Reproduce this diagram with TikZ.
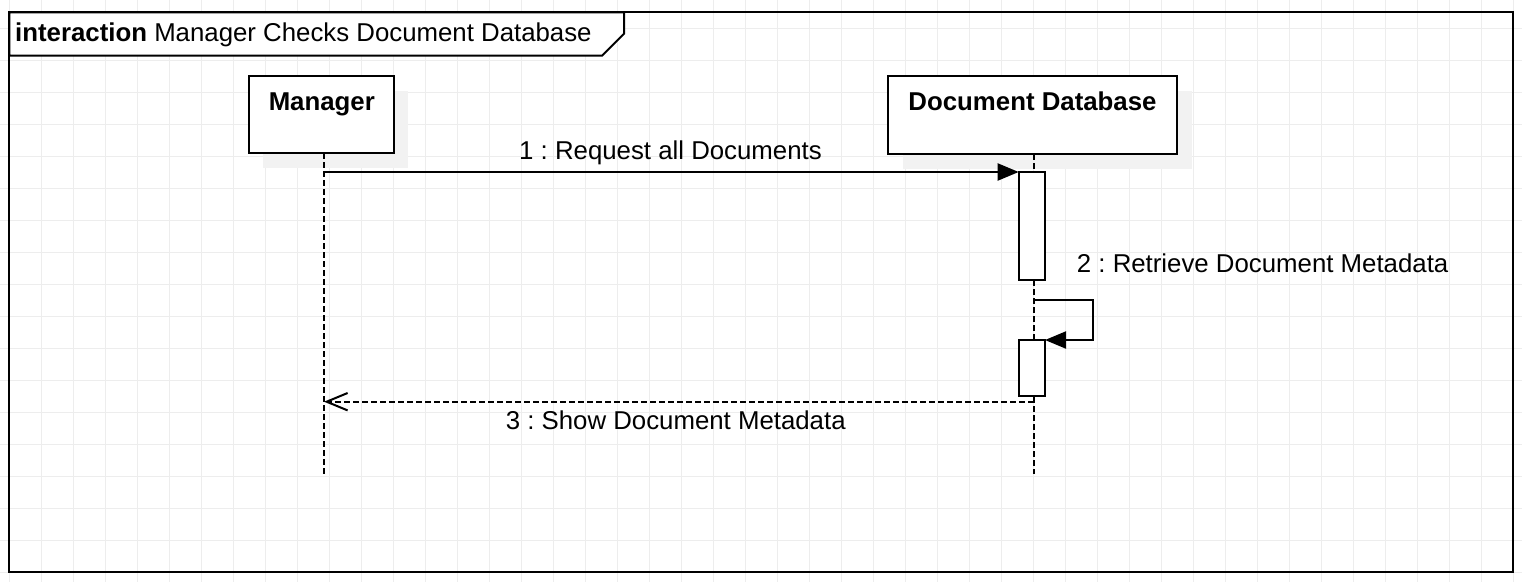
\documentclass[tikz,border=0pt]{standalone}
\usepackage{fontspec}
\setmainfont{Liberation Sans}
\usetikzlibrary{arrows.meta,calc,shadows}
\definecolor{gridc}{HTML}{EDEDED}
\definecolor{shadowc}{HTML}{F2F2F2}
\frenchspacing
\begin{document}
\begin{tikzpicture}[x=1pt,y=-1pt,
  every node/.style={font=\fontsize{25.8}{30}\selectfont},
  thickline/.style={line width=2pt},
  boxst/.style={draw, line width=2pt, fill=white, anchor=north west, inner sep=0pt, outer sep=0pt},
  headbox/.style={boxst, drop shadow={shadow xshift=14.5pt, shadow yshift=-14.5pt, fill=shadowc, opacity=1}},
  txt/.style={anchor=base, inner sep=0pt, text=black},
  headtxt/.style={txt, font=\fontsize{25.8}{30}\selectfont\bfseries},
  lifeline/.style={line width=2pt, dash pattern=on 6pt off 3pt},
  msg/.style={line width=2pt, -{Triangle[length=21pt,width=17pt]}},
  ret/.style={line width=2pt, dash pattern=on 6pt off 3pt, -{Straight Barb[length=21pt,width=17.4pt]}}
]
\useasboundingbox (0,0) rectangle (1522,582);
\fill[white] (0,0) rectangle (1522,582);
% grid
\foreach \i in {0,...,47} \draw[gridc, line width=1pt] ({9.3+32*\i},0) -- ({9.3+32*\i},582);
\foreach \j in {1,...,18} \draw[gridc, line width=1pt] (0,{-4+32*\j}) -- (1522,{-4+32*\j});
% frame
\draw[thickline] (9.3,12.3) rectangle (1513,572);
\filldraw[fill=white, thickline] (9.3,12.3) -- (624,12.3) -- (624,33.7) -- (602,55.7) -- (9.3,55.7) -- cycle;
\node[txt, anchor=base west] (title) at (15,41.7) {\textbf{interaction} Manager Checks Document Database};
% heads
\node[headbox, minimum width=145pt, minimum height=77.3pt] (mgr) at (248.7,76) {};
\node[headbox, minimum width=289pt, minimum height=78pt] (db) at (888.3,76) {};
\node[headtxt] (mgrT) at (321.8,110) {Manager};
\node[headtxt] (dbT) at (1032.5,110) {Document Database};
% lifelines
\coordinate (mgrEnd) at (324,474);
\coordinate (dbEnd) at (1033.7,474);
\draw[lifeline] (mgr.south -| mgrEnd) -- (mgrEnd);
\draw[lifeline] (db.south -| dbEnd) -- (dbEnd);
% activations
\node[boxst, minimum width=26.3pt, minimum height=108pt] (act1) at (1018.7,172) {};
\node[boxst, minimum width=26.3pt, minimum height=56pt] (act2) at (1018.7,340) {};
% message 1
\coordinate (m1s) at (324,172);
\draw[msg] (m1s) -- (act1.north west);
\node[txt] (l1) at (670.5,159.3) {1 : Request all Documents};
% message 2 (self)
\coordinate (m2s) at (1033.7,299.7);
\draw[msg] (m2s) -- ++(59.3,0) |- (act2.north east);
\node[txt, anchor=base west] (l2) at (1076.7,272) {2 : Retrieve Document Metadata};
% message 3 (return)
\coordinate (m3s) at (1033.7,401.7);
\draw[ret] (m3s) -- (m3s -| mgrEnd);
\node[txt] (l3) at (675.7,429.3) {3 : Show Document Metadata};
\end{tikzpicture}
\end{document}
